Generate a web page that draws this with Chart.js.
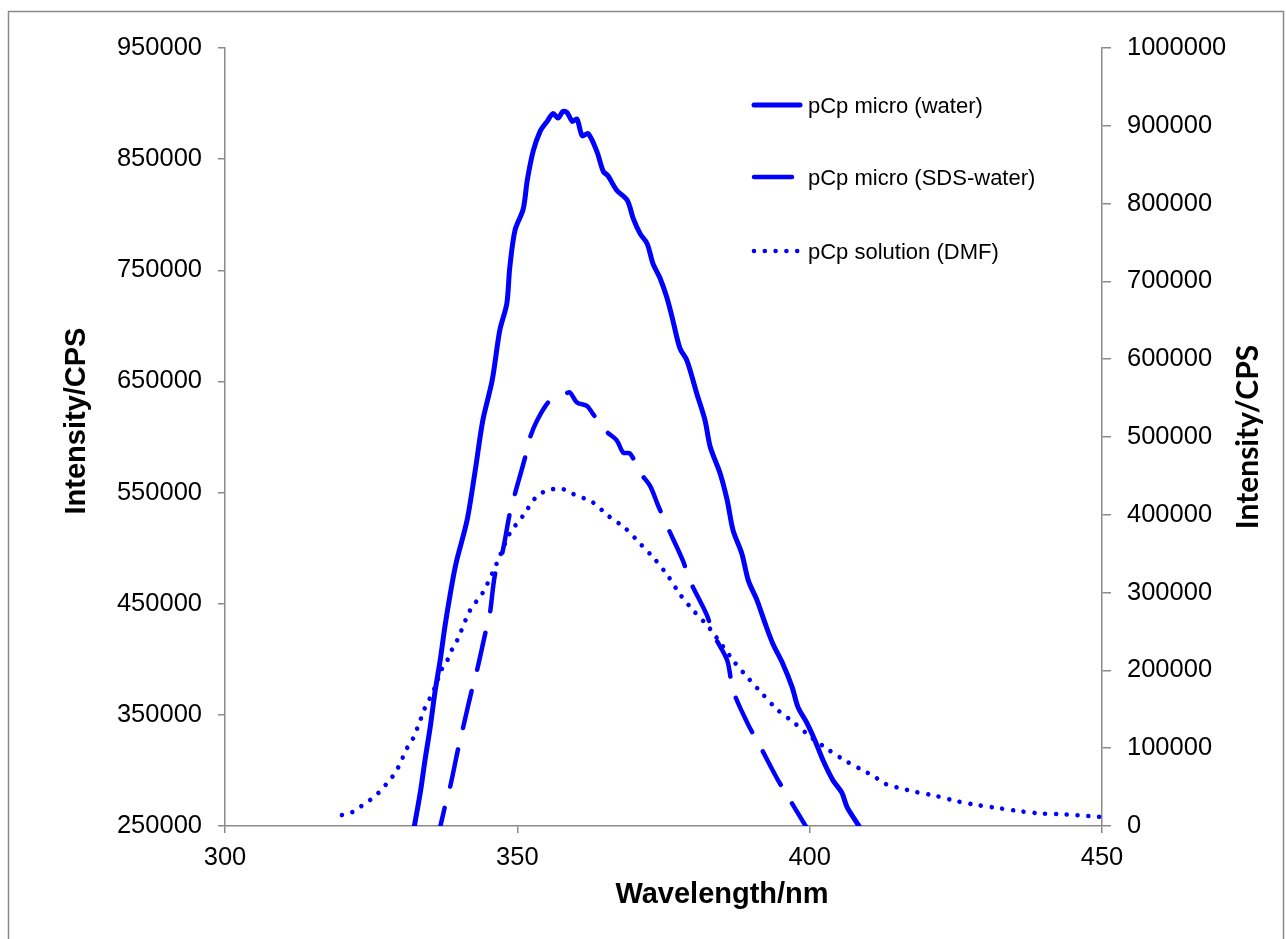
<!DOCTYPE html>
<html>
<head>
<meta charset="utf-8">
<script src="https://cdn.jsdelivr.net/npm/chart.js@4/dist/chart.umd.min.js"></script>
<style>
  html, body { margin: 0; padding: 0; background: #fff; }
  canvas { display: block; }
</style>
</head>
<body>
<canvas id="spectra" width="1286" height="939"></canvas>
<script>
// ==========================================
// Data
// ==========================================
const waterNm = [331.8, 333.4, 334.2, 335.1, 335.9, 336.8, 337.6, 338.5, 339.5, 341.4,
  342.8, 344.1, 345.7, 347.0, 348.2, 348.7, 349.6, 351.0, 351.7, 352.7,
  353.9, 355.1, 356.1, 357.0, 357.8, 358.5, 359.4, 360.2, 361.1, 362.1,
  363.6, 364.7, 365.5, 367.0, 368.8, 369.8, 371.0, 372.2, 373.2, 374.4,
  375.6, 376.6, 377.8, 379.0, 380.7, 382.1, 383.0, 384.7, 385.9, 386.9,
  388.4, 389.5, 391.0, 392.4, 393.7, 395.4, 397.0, 398.0, 399.5, 400.9,
  402.3, 404.0, 405.5, 406.4, 408.3, 408.9];
const waterCps = [233000, 280000, 309000, 339000, 370000, 399000, 429000, 458000, 486000, 525000,
  570000, 615000, 651000, 696000, 720000, 752000, 786000, 805000, 831000, 857000,
  875000, 884000, 891000, 887000, 893000, 892000, 884000, 886000, 871000, 873000,
  857000, 839000, 835000, 822000, 813000, 797000, 783000, 774000, 756000, 743000,
  725000, 705000, 680000, 669000, 639000, 615000, 591000, 567000, 543000, 516000,
  495000, 471000, 453000, 432000, 414000, 396000, 375000, 357000, 343000, 327000,
  309000, 291000, 280000, 267000, 251000, 245000];

const sdsNm = [336.1, 337.6, 338.5, 339.9, 340.7, 342.2, 343.1, 344.5, 345.3, 346.2,
  347.4, 348.7, 349.6, 351.3, 352.2, 353.4, 355.1, 356.4, 358.2, 359.0,
  360.2, 361.9, 362.9, 365.0, 367.0, 368.1, 369.3, 371.0, 372.7, 374.1,
  375.6, 378.3, 379.5, 382.4, 383.5, 385.9, 386.9, 389.5, 391.2, 394.4,
  396.1, 399.2, 399.9];
const sdsCps = [233000, 267000, 285000, 320000, 338000, 372000, 390000, 423000, 441000, 477000,
  495000, 531000, 549000, 581000, 600000, 615000, 630000, 636000, 639000, 640000,
  631000, 628000, 621000, 606000, 597000, 586000, 585000, 568000, 556000, 538000,
  520000, 489000, 471000, 440000, 423000, 399000, 372000, 341000, 325000, 293000,
  278000, 251000, 245000];

const dmfNm = [320.0, 321.8, 323.4, 324.9, 326.3, 327.5, 328.6, 329.6, 330.4, 331.2,
  332.2, 332.9, 333.5, 334.2, 335.1, 335.9, 337.1, 338.1, 338.9, 339.8,
  341.9, 344.1, 346.5, 348.7, 351.0, 353.0, 354.4, 356.1, 357.8, 359.5,
  362.9, 365.5, 368.4, 371.0, 373.5, 375.8, 377.8, 380.1, 382.7, 387.1,
  389.5, 391.9, 394.4, 397.3, 400.1, 403.2, 406.3, 409.5, 411.2, 412.6,
  418.0, 421.4, 425.1, 428.6, 432.3, 436.0, 439.7, 443.4, 449.1, 450.0];
const dmfCps = [14000, 18000, 26000, 34000, 43000, 53000, 63000, 75000, 88000, 101000,
  113000, 126000, 138000, 152000, 165000, 178000, 202000, 214000, 228000, 240000,
  277000, 300000, 338000, 376000, 399000, 421000, 429000, 433000, 433000, 427000,
  416000, 399000, 383000, 363000, 343000, 321000, 298000, 277000, 256000, 211000,
  190000, 170000, 150000, 133000, 115000, 98000, 83000, 70000, 63000, 55000,
  44000, 39000, 32000, 27000, 23000, 19000, 16000, 15000, 12000, 11500];

const seriesLabels = ['pCp micro (water)', 'pCp micro (SDS-water)', 'pCp solution (DMF)'];
const xTitle = 'Wavelength/nm';
const yTitle = 'Intensity/CPS';

const xRange = [300, 450, 50];
const leftRange = [250000, 950000, 100000];
const rightRange = [0, 1000000, 100000];

// ==========================================
// Styling
// ==========================================
const FONT = '"Liberation Sans", Arial, sans-serif';
const GREY = '#8a8a8a';
const BLUE = '#0000ff';

const toPoints = (xs, ys) => xs.map((x, i) => ({ x, y: ys[i] }));
const plainNumber = (v) => String(v);

const axisStyle = (tickLen) => ({
  grid: { drawOnChartArea: false, drawTicks: true, tickLength: tickLen, color: GREY, lineWidth: 1.5 },
  border: { display: true, color: GREY, width: 1.5 },
});

// ==========================================
// Titles, legend and frame
// ==========================================
const decorations = {
  id: 'decorations',
  afterDraw(chart) {
    const ctx = chart.ctx;
    ctx.save();

    ctx.strokeStyle = GREY;
    ctx.lineWidth = 1.5;
    ctx.strokeRect(8.5, 11.5, 1275, 940);

    ctx.fillStyle = '#000';
    ctx.textAlign = 'center';
    ctx.textBaseline = 'alphabetic';
    ctx.font = `bold 29px ${FONT}`;
    ctx.fillText(xTitle, 722, 903);

    ctx.save();
    ctx.translate(85, 421);
    ctx.rotate(-Math.PI / 2);
    ctx.fillText(yTitle, 0, 0);
    ctx.restore();

    ctx.save();
    ctx.font = `bold 30px Lato, ${FONT}`;
    ctx.translate(1258, 437);
    ctx.rotate(-Math.PI / 2);
    ctx.fillText(yTitle, 0, 0);
    ctx.restore();

    // legend
    const rows = [105, 177, 251];
    chart.data.datasets.forEach((ds, i) => {
      const y = rows[i];
      ctx.beginPath();
      ctx.strokeStyle = ds.borderColor;
      ctx.lineWidth = ds.borderWidth;
      ctx.lineCap = 'round';
      ctx.setLineDash(ds.borderDash || []);
      ctx.moveTo(754, y);
      ctx.lineTo(800, y);
      ctx.stroke();
      ctx.setLineDash([]);
      ctx.fillStyle = '#000';
      ctx.textAlign = 'left';
      ctx.font = `22px ${FONT}`;
      ctx.fillText(ds.label, 808, y + 8);
    });

    ctx.restore();
  }
};

// ==========================================
// Chart
// ==========================================
const lineDefaults = {
  borderColor: BLUE,
  pointRadius: 0,
  tension: 0.3,
  fill: false,
  borderCapStyle: 'round',
  borderJoinStyle: 'round',
  clip: 0,
};

new Chart(document.getElementById('spectra'), {
  type: 'line',
  data: {
    datasets: [
      { ...lineDefaults, label: seriesLabels[0], data: toPoints(waterNm, waterCps), yAxisID: 'y', borderWidth: 5 },
      { ...lineDefaults, label: seriesLabels[1], data: toPoints(sdsNm, sdsCps), yAxisID: 'y', borderWidth: 4.5, borderDash: [38, 22] },
      { ...lineDefaults, label: seriesLabels[2], data: toPoints(dmfNm, dmfCps), yAxisID: 'y1', borderWidth: 4.6, borderDash: [0.001, 10.8] },
    ]
  },
  options: {
    responsive: false,
    animation: false,
    devicePixelRatio: 1,
    layout: { padding: { top: 48, left: 0, right: 0, bottom: 0 } },
    plugins: { legend: { display: false }, tooltip: { enabled: false } },
    scales: {
      x: {
        type: 'linear', position: 'bottom',
        min: xRange[0], max: xRange[1],
        ticks: { stepSize: xRange[2], color: '#000', font: { family: FONT, size: 25.5 }, padding: 10, maxRotation: 0, callback: plainNumber },
        afterFit: (s) => { s.height = 939 - 826; },
        ...axisStyle(7),
      },
      y: {
        type: 'linear', position: 'left',
        min: leftRange[0], max: leftRange[1],
        ticks: { stepSize: leftRange[2], color: '#000', font: { family: FONT, size: 25.5 }, padding: 16, autoSkip: false, callback: plainNumber },
        afterFit: (s) => { s.width = 225; },
        ...axisStyle(7),
      },
      y1: {
        type: 'linear', position: 'right',
        min: rightRange[0], max: rightRange[1],
        ticks: { stepSize: rightRange[2], color: '#000', font: { family: FONT, size: 25.5 }, padding: 16, autoSkip: false, callback: plainNumber },
        afterFit: (s) => { s.width = 1286 - 1102; },
        ...axisStyle(9),
      },
    }
  },
  plugins: [decorations]
});
</script>
</body>
</html>
